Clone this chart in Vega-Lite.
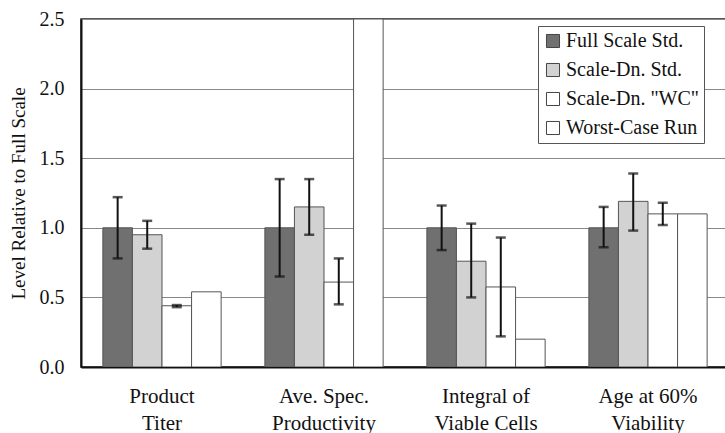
{
  "$schema": "https://vega.github.io/schema/vega-lite/v6.json",
  "width": 648,
  "height": 348,
  "padding": {"left": 9, "top": 9, "right": 0, "bottom": 0},
  "background": "white",
  "config": {
    "font": "Liberation Serif",
    "axis": {"labelFont": "Liberation Serif", "titleFont": "Liberation Serif"},
    "legend": {"labelFont": "Liberation Serif"},
    "view": {"stroke": "#222", "strokeWidth": 1.5}
  },
  "data": {
    "values": [
      {"cat": "Product|Titer", "series": "Full Scale Std.", "value": 1.0, "lo": 0.78, "hi": 1.22},
      {"cat": "Product|Titer", "series": "Scale-Dn. Std.", "value": 0.95, "lo": 0.85, "hi": 1.05},
      {"cat": "Product|Titer", "series": "Scale-Dn. \"WC\"", "value": 0.44, "lo": 0.43, "hi": 0.445},
      {"cat": "Product|Titer", "series": "Worst-Case Run", "value": 0.54, "lo": null, "hi": null},
      {"cat": "Ave. Spec.|Productivity", "series": "Full Scale Std.", "value": 1.0, "lo": 0.65, "hi": 1.35},
      {"cat": "Ave. Spec.|Productivity", "series": "Scale-Dn. Std.", "value": 1.15, "lo": 0.95, "hi": 1.35},
      {"cat": "Ave. Spec.|Productivity", "series": "Scale-Dn. \"WC\"", "value": 0.61, "lo": 0.45, "hi": 0.78},
      {"cat": "Ave. Spec.|Productivity", "series": "Worst-Case Run", "value": 2.5, "lo": null, "hi": null},
      {"cat": "Integral of|Viable Cells", "series": "Full Scale Std.", "value": 1.0, "lo": 0.84, "hi": 1.16},
      {"cat": "Integral of|Viable Cells", "series": "Scale-Dn. Std.", "value": 0.76, "lo": 0.5, "hi": 1.03},
      {"cat": "Integral of|Viable Cells", "series": "Scale-Dn. \"WC\"", "value": 0.575, "lo": 0.22, "hi": 0.93},
      {"cat": "Integral of|Viable Cells", "series": "Worst-Case Run", "value": 0.2, "lo": null, "hi": null},
      {"cat": "Age at 60%|Viability", "series": "Full Scale Std.", "value": 1.0, "lo": 0.86, "hi": 1.15},
      {"cat": "Age at 60%|Viability", "series": "Scale-Dn. Std.", "value": 1.19, "lo": 0.98, "hi": 1.39},
      {"cat": "Age at 60%|Viability", "series": "Scale-Dn. \"WC\"", "value": 1.1, "lo": 1.02, "hi": 1.18},
      {"cat": "Age at 60%|Viability", "series": "Worst-Case Run", "value": 1.1, "lo": null, "hi": null}
    ]
  },
  "encoding": {
    "x": {
      "field": "cat", "type": "nominal", "sort": null,
      "scale": {"paddingInner": 0.27, "paddingOuter": 0.135},
      "axis": {
        "title": null, "labelAngle": 0, "ticks": false,
        "labelExpr": "split(datum.label, '|')",
        "labelFontSize": 21, "labelLineHeight": 27, "labelColor": "#111",
        "labelPadding": 18, "domainColor": "#111", "domainWidth": 2
      }
    },
    "xOffset": {
      "field": "series", "type": "nominal", "sort": null,
      "scale": {"paddingInner": 0, "paddingOuter": 0}
    }
  },
  "layer": [
    {
      "mark": {"type": "bar", "stroke": "#555", "strokeWidth": 1, "clip": true},
      "encoding": {
        "y": {
          "field": "value", "type": "quantitative",
          "scale": {"domain": [0, 2.5], "nice": false},
          "axis": {
            "title": "Level Relative to Full Scale",
            "titleFontSize": 19, "titleFontWeight": "normal", "titleColor": "#111", "titlePadding": 11,
            "values": [0, 0.5, 1, 1.5, 2, 2.5], "format": ".1f",
            "labelFontSize": 20, "labelColor": "#111", "labelPadding": 17, "ticks": false,
            "domainColor": "#111", "domainWidth": 2,
            "grid": true, "gridColor": "#888", "gridWidth": 1
          }
        },
        "fill": {
          "field": "series", "type": "nominal", "sort": null,
          "scale": {
            "domain": ["Full Scale Std.", "Scale-Dn. Std.", "Scale-Dn. \"WC\"", "Worst-Case Run"],
            "range": ["#707070", "#d2d2d2", "#ffffff", "#ffffff"]
          },
          "legend": {
            "title": null, "orient": "none", "legendX": 457, "legendY": 7,
            "symbolType": "square", "symbolSize": 170, "symbolStrokeColor": "#444", "symbolStrokeWidth": 1,
            "labelFontSize": 20, "labelColor": "#111", "labelOffset": 3,
            "rowPadding": 9, "padding": 5,
            "strokeColor": "#555", "fillColor": "white"
          }
        }
      }
    },
    {
      "transform": [{"filter": "datum.lo != null"}],
      "mark": {"type": "rule", "color": "#111", "strokeWidth": 2},
      "encoding": {
        "y": {"field": "lo", "type": "quantitative"},
        "y2": {"field": "hi"}
      }
    },
    {
      "transform": [{"filter": "datum.lo != null"}],
      "mark": {"type": "tick", "color": "#111", "thickness": 2.5, "size": 10},
      "encoding": {"y": {"field": "lo", "type": "quantitative"}}
    },
    {
      "transform": [{"filter": "datum.lo != null"}],
      "mark": {"type": "tick", "color": "#111", "thickness": 2.5, "size": 10},
      "encoding": {"y": {"field": "hi", "type": "quantitative"}}
    }
  ]
}
